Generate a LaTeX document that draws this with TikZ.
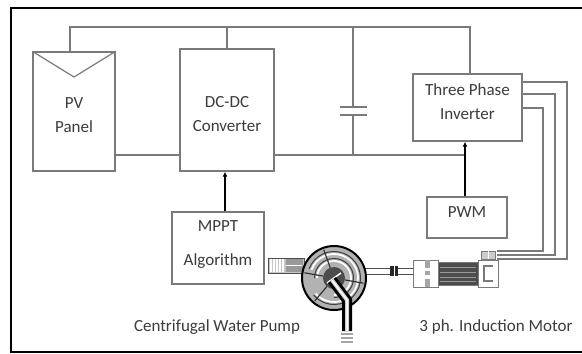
\documentclass[tikz,border=0pt]{standalone}
\usepackage{fontspec}
\setmainfont{Carlito}
\usetikzlibrary{arrows.meta}
\definecolor{wirec}{HTML}{7A7A7A}
\definecolor{txtc}{HTML}{3C3C3C}
\tikzset{
  wire/.style={draw=wirec, line width=1.4pt},
  blk/.style={draw=wirec, line width=1.4pt, fill=white, inner sep=0pt},
  lbl/.style={text=txtc, font=\fontsize{17}{24}\selectfont, align=center, inner sep=0pt},
  sig/.style={draw=black, line width=1.4pt, -{Latex[length=5pt,width=5pt]}},
}
\begin{document}
\begin{tikzpicture}[x=1pt,y=-1pt]
\useasboundingbox (0,0) rectangle (582,354);
\fill[white] (0,0) rectangle (582,354);
\draw[black, line width=2pt] (11,8) rectangle (590,352);

% blocks
\node[blk, minimum width=82pt, minimum height=119pt] (pv) at (74,111.5) {};
\node[blk, minimum width=94pt, minimum height=122pt] (dc) at (227,110) {};
\node[blk, minimum width=109pt, minimum height=67pt] (inv) at (467.5,107.5) {};
\node[blk, minimum width=80pt, minimum height=41pt] (pwm) at (467,217.5) {};
\node[blk, minimum width=92pt, minimum height=72pt] (mppt) at (218,248) {};

\node[lbl] (pvt) at (74,115) {PV\\Panel};
\node[lbl] (dct) at (227,114.5) {DC-DC\\Converter};
\node[lbl] (invt) at (467.5,101.5) {Three Phase\\Inverter};
\node[lbl] (pwmt) at (467,212) {PWM};
\node[lbl, font=\fontsize{17}{34}\selectfont] (mpptt) at (218,245) {MPPT\\Algorithm};

% PV symbol
\draw[wire, line width=1.2pt] (pv.north west) -- (74,77) -- (pv.north east);

% top bus
\coordinate (t1) at (70,27);
\coordinate (t2) at (470,27);
\draw[wire] (pv.north west -| t1) -- (t1) -- (t2) -- (inv.north -| t2);
\draw[wire] (dc.north) -- (dc.north |- t1);

% capacitor
\coordinate (ct) at (353,27);
\coordinate (cp1) at (353,107);
\coordinate (cp2) at (353,115);
\coordinate (cb) at (353,155);
\draw[wire] (ct) -- (cp1);
\draw[wire] (cp2) -- (cb);
\draw[wire] (340,107) -- (367,107);
\draw[wire] (340,115) -- (367,115);

% bottom bus
\coordinate (b1) at (115,155);
\coordinate (b2) at (465,155);
\draw[wire] (pv.east |- b1) -- (dc.west |- b1);
\draw[wire] (dc.east |- b1) -- (b2);

% control arrows
\draw[sig] (pwm.north -| b2) -- (inv.south -| b2);
\draw[sig] (mppt.north -| 225,0) -- (dc.south -| 225,0);

% three phase outputs
\coordinate (m1) at (497,251);
\coordinate (m2) at (497,255);
\coordinate (m3) at (497,259);
\draw[wire, line width=1.2pt] (inv.east |- 0,82) -- (567,82) -- (567,259) -- (m3);
\draw[wire, line width=1.2pt] (inv.east |- 0,94) -- (555,94) -- (555,255) -- (m2);
\draw[wire, line width=1.2pt] (inv.east |- 0,108) -- (543,108) -- (543,251) -- (m1);

% pump: inlet
\draw[black!70, line width=0.8pt, fill=gray!45] (268,258) rectangle (304,273);
\foreach \x in {271,274,277,280,283} \draw[white, line width=1.2pt] (\x,259) -- (\x,272);
\fill[gray!80] (286,259) rectangle (303,272);
\draw[white, line width=1.5pt] (286,265.5) -- (302,265.5);

% shaft
\draw[black!70, line width=0.8pt, fill=white] (364,268) rectangle (413,274);
\fill[black!85] (390,266) rectangle (398,276);
\draw[white, line width=0.8pt] (394,266) -- (394,276);

% pump body
\node[circle, draw=black, line width=2pt, fill=gray!60, minimum size=64pt, inner sep=0pt] (pump) at (334,278) {};
\draw[black!75, line width=1pt] (334,278) ++(200:26.5) arc (200:500:26.5);
\draw[white, line width=1.8pt] (334,278) ++(200:24) arc (200:500:24);
\draw[black!75, line width=1pt] (334,278) ++(180:19.5) arc (180:450:19.5);
\draw[white, line width=1.8pt] (334,278) ++(180:17) arc (180:450:17);
\foreach \a in {10,70,130,190,250} \draw[black!80, line width=1.2pt] (334,278) ++(\a:11) -- ++(\a:19);
\fill[black!70] (334,278) circle (11);
\draw[white, line width=1.5pt] (327,283) -- (341,273);
% outlet pipe
\draw[black, line width=10pt] (332,280) -- (347,300) -- (347,331);
\draw[gray!40, line width=4pt] (332,280) -- (347,300) -- (347,331);
\draw[white, line width=1.5pt] (332,280) -- (347,300) -- (347,331);
\draw[gray!70, line width=1.3pt] (341,334) -- (353,334);
\draw[gray!70, line width=1.3pt] (341,338) -- (353,338);
\draw[gray!70, line width=1.3pt] (341,342) -- (353,342);

% motor
\draw[wirec, line width=1pt, fill=white] (413,260) rectangle (438,287);
\fill[gray!70] (425,260) rectangle (430,268);
\fill[gray!70] (425,279) rectangle (430,287);
\fill[gray!70] (425,271) rectangle (430,275);
\draw[wirec, line width=1pt, fill=black!70] (438,262) rectangle (478,285);
\foreach \y in {267,272,277,281} \draw[gray!80, line width=0.5pt] (440,\y) -- (476,\y);
\draw[wirec, line width=1pt, fill=white] (478,260) rectangle (498,287);
\draw[wirec, line width=1.2pt] (493,266) -- (484,266) -- (484,281) -- (493,281);
\draw[wirec, line width=1pt, fill=gray!40] (481,251) rectangle (495,259);
\draw[white, line width=0.8pt] (488,251) -- (488,259);

% captions
\node[lbl] (cap1) at (217,327) {Centrifugal Water Pump};
\node[lbl] (cap2) at (496,327) {3 ph. Induction Motor};
\end{tikzpicture}
\end{document}
